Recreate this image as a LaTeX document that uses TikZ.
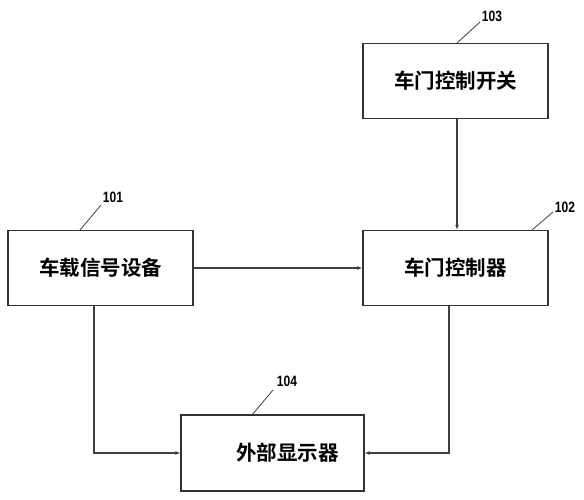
\documentclass[tikz,border=0pt]{standalone}
\usepackage{fontspec}
\setmainfont{Liberation Sans}
\newfontfamily\cjk{Noto Sans CJK SC}[BoldFont={* Bold}]
\usetikzlibrary{arrows.meta}
\begin{document}
\begin{tikzpicture}[x=1pt,y=-1pt,
  blk/.style={draw=black!80,line width=1.3pt,minimum width=185pt,minimum height=75pt,inner sep=0pt,
    font=\cjk\bfseries\fontsize{20.5}{20.5}\selectfont},
  wire/.style={draw=black!75,line width=1.2pt},
  arr/.style={wire,-{Latex[length=5pt,width=4pt]}},
  lead/.style={draw=black!75,line width=0.8pt},
  num/.style={font=\bfseries\fontsize{15}{15}\selectfont,inner sep=0pt,xscale=0.8}]
\useasboundingbox (0,0) rectangle (584,500);
\node[blk] (b101) at (100.5,268) {车载信号设备};
\node[blk] (b103) at (455.5,81) {车门控制开关};
\node[blk] (b102) at (455.5,268) {车门控制器};
\node[blk,minimum width=183pt,minimum height=76pt] (b104) at (272.5,453) {\hspace*{30pt}外部显示器};
% labels
\node[num] (n101) at (113,197) {101};
\node[num] (n103) at (492,16) {103};
\node[num] (n102) at (565,207) {102};
\node[num] (n104) at (287,381) {104};
\coordinate (l101) at (80,230);
\coordinate (l103) at (457,43);
\coordinate (l102) at (532,230);
\coordinate (l104) at (252,415);
\draw[lead] (l101) -- (101,205);
\draw[lead] (l103) -- (480,22);
\draw[lead] (l102) -- (553,212);
\draw[lead] (l104) -- (273,390);
% connectors
\draw[arr] (b103.south -| 457,0) -- (b102.north -| 457,0);
\draw[arr] (b101.east) -- (b102.west);
\draw[arr] (b101.south -| 94,0) |- (b104.west);
\draw[arr] (b102.south -| 449,0) |- (b104.east);
\end{tikzpicture}
\end{document}
